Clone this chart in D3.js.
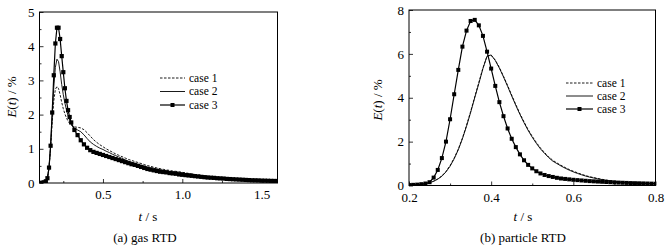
<!DOCTYPE html>
<html><head><meta charset="utf-8">
<script src="https://cdn.jsdelivr.net/npm/d3@7/dist/d3.min.js"></script>
<style>
html,body{margin:0;padding:0;background:#fff;}
svg{display:block;}
svg text{font-family:"Liberation Serif","Times New Roman",Times,"DejaVu Serif",serif !important;}
</style></head>
<body><svg id="c" width="672" height="248"></svg>
<script>
// ---------- DATA: (a) gas RTD ----------
const tGas = [0.10,0.11,0.12,0.13,0.14,0.15,0.16,0.17,0.18,0.19,0.20,0.21,0.22,0.23,0.24,0.25,0.26,0.27,0.28,0.29,0.30,
0.32,0.34,0.36,0.38,0.40,0.42,0.44,0.46,0.48,0.50,0.52,0.54,0.56,0.58,0.60,0.62,0.64,0.66,0.68,0.70,
0.72,0.74,0.76,0.78,0.80,0.82,0.84,0.86,0.88,0.90,0.92,0.94,0.96,0.98,1.00,1.02,1.04,1.06,1.08,1.10,
1.12,1.14,1.16,1.18,1.20,1.22,1.24,1.26,1.28,1.30,1.32,1.34,1.36,1.38,1.40,1.42,1.44,1.46,1.48,1.50,
1.52,1.54,1.56,1.58,1.60];
const gasCase1 = [0,0,0.01,0.02,0.05,0.14,0.44,1.02,1.78,2.40,2.74,2.82,2.76,2.58,2.36,2.17,2.02,1.90,1.81,1.74,1.69,
1.64,1.63,1.61,1.56,1.47,1.37,1.27,1.19,1.12,1.06,1.00,0.95,0.90,0.85,0.81,0.77,0.73,0.69,0.66,0.63,
0.60,0.57,0.54,0.51,0.49,0.46,0.44,0.42,0.40,0.38,0.37,0.35,0.34,0.33,0.31,0.30,0.28,0.27,0.25,0.24,
0.22,0.21,0.20,0.19,0.18,0.17,0.16,0.15,0.145,0.14,0.13,0.125,0.12,0.11,0.105,0.10,0.095,0.09,0.085,0.08,
0.077,0.073,0.07,0.067,0.064];
const gasCase2 = [0,0,0.01,0.02,0.05,0.14,0.45,1.07,1.95,2.80,3.38,3.62,3.55,3.25,2.88,2.58,2.34,2.14,1.97,1.84,1.73,
1.60,1.55,1.50,1.41,1.30,1.20,1.13,1.07,1.02,0.98,0.93,0.89,0.84,0.80,0.76,0.72,0.68,0.64,0.61,0.58,
0.55,0.52,0.50,0.47,0.45,0.43,0.41,0.39,0.37,0.36,0.34,0.33,0.32,0.31,0.30,0.28,0.27,0.25,0.24,0.22,
0.21,0.20,0.19,0.18,0.17,0.16,0.15,0.145,0.14,0.13,0.125,0.12,0.11,0.105,0.10,0.095,0.09,0.085,0.08,0.077,
0.073,0.07,0.067,0.064,0.06];
const gasCase3 = [0,0,0.01,0.02,0.05,0.14,0.45,1.09,2.06,3.15,4.08,4.54,4.54,4.21,3.71,3.24,2.77,2.40,2.13,1.93,1.77,
1.55,1.40,1.25,1.13,1.03,0.96,0.91,0.88,0.85,0.82,0.79,0.76,0.73,0.70,0.67,0.64,0.61,0.58,0.55,0.53,
0.50,0.47,0.44,0.41,0.39,0.37,0.35,0.33,0.32,0.31,0.29,0.28,0.27,0.25,0.24,0.23,0.22,0.21,0.20,0.19,
0.18,0.17,0.16,0.155,0.15,0.14,0.135,0.13,0.12,0.115,0.11,0.105,0.10,0.095,0.09,0.085,0.08,0.078,0.075,0.07,
0.068,0.065,0.062,0.06,0.058];

// ---------- DATA: (b) particle RTD ----------
const tPart = [0.20,0.21,0.22,0.23,0.24,0.25,0.26,0.27,0.28,0.29,0.30,0.31,0.32,0.33,0.34,0.35,0.36,0.37,0.38,0.39,0.40,
0.41,0.42,0.43,0.44,0.45,0.46,0.47,0.48,0.49,0.50,0.51,0.52,0.53,0.54,0.55,0.56,0.57,0.58,0.59,0.60,
0.61,0.62,0.63,0.64,0.65,0.66,0.67,0.68,0.69,0.70,0.71,0.72,0.73,0.74,0.75,0.76,0.77,0.78,0.79,0.80];
const partCase1 = [0.01,0.01,0.02,0.04,0.08,0.13,0.20,0.30,0.44,0.64,0.91,1.25,1.66,2.16,2.74,3.37,4.04,4.70,5.36,5.90,5.93,
5.72,5.38,4.98,4.56,4.12,3.69,3.28,2.90,2.55,2.24,1.96,1.71,1.50,1.31,1.15,1.03,0.92,0.82,0.73,0.65,
0.58,0.51,0.45,0.40,0.36,0.32,0.28,0.25,0.22,0.20,0.18,0.165,0.15,0.135,0.125,0.115,0.105,0.10,0.093,0.087];
const partCase2 = [0.01,0.01,0.02,0.04,0.08,0.13,0.19,0.29,0.42,0.62,0.88,1.22,1.63,2.13,2.70,3.33,4.00,4.65,5.33,5.90,5.95,
5.70,5.35,4.95,4.52,4.08,3.65,3.24,2.86,2.51,2.20,1.92,1.67,1.46,1.27,1.11,1.00,0.89,0.79,0.70,0.62,
0.55,0.49,0.43,0.38,0.34,0.30,0.27,0.24,0.21,0.19,0.17,0.155,0.14,0.13,0.12,0.11,0.10,0.095,0.09,0.085];
const partCase3 = [0.02,0.03,0.04,0.06,0.09,0.15,0.36,0.71,1.25,2.00,3.02,4.16,5.27,6.33,7.06,7.50,7.55,7.30,6.82,6.10,5.33,
4.54,3.80,3.16,2.60,2.13,1.75,1.42,1.15,0.94,0.78,0.65,0.55,0.48,0.43,0.39,0.35,0.32,0.30,0.28,0.26,
0.245,0.23,0.215,0.20,0.19,0.18,0.17,0.16,0.15,0.14,0.132,0.125,0.118,0.11,0.105,0.10,0.095,0.09,0.085,0.08];

// ---------- TICKS / LABELS ----------
const gasXTicks = [0.5,1.0,1.5];
const gasXMinor = [0.25,0.75,1.25];
const gasYTicks = [0,1,2,3,4,5];
const gasYMinor = [0.5,1.5,2.5,3.5,4.5];
const partXTicks = [0.2,0.4,0.6,0.8];
const partXMinor = [0.3,0.5,0.7];
const partYTicks = [0,2,4,6,8];
const partYMinor = [1,3,5,7];
const legendLabels = ["case 1","case 2","case 3"];
const captions = ["(a) gas RTD","(b) particle RTD"];

const FONT = '"Liberation Serif","Times New Roman",Times,"DejaVu Serif",serif';
const svg = d3.select("#c").attr("font-family",FONT);

function panel(opt){
  const x = d3.scaleLinear().domain(opt.xd).range(opt.xr);
  const y = d3.scaleLinear().domain(opt.yd).range(opt.yr);
  const g = svg.append("g").attr("font-family",FONT);
  const [x0,x1] = opt.xr, [y0,y1] = opt.yr;
  const clipId = "clip"+opt.id;
  svg.append("clipPath").attr("id",clipId).append("rect")
    .attr("x",x0).attr("y",y1-2).attr("width",x1-x0).attr("height",y0-y1+2);

  // axes
  const ax = d3.axisBottom(x).tickValues(opt.xt).tickSize(-4).tickPadding(7)
     .tickFormat(opt.xf);
  const gx = g.append("g").attr("transform",`translate(0,${y0})`).call(ax);
  const axm = d3.axisBottom(x).tickValues(opt.xm).tickSize(-2).tickFormat("");
  const gxm = g.append("g").attr("transform",`translate(0,${y0})`).call(axm);
  const ay = d3.axisLeft(y).tickValues(opt.yt).tickSize(-4).tickPadding(5).tickFormat(d3.format("d"));
  const gy = g.append("g").attr("transform",`translate(${x0},0)`).call(ay);
  const aym = d3.axisLeft(y).tickValues(opt.ym).tickSize(-2).tickFormat("");
  const gym = g.append("g").attr("transform",`translate(${x0},0)`).call(aym);
  [gx,gxm,gy,gym].forEach(a=>{
    a.attr("font-family",FONT);
    a.select(".domain").remove();
    a.selectAll("line").attr("stroke","#000").attr("stroke-width",0.8);
    a.selectAll("text").attr("font-family",FONT).attr("font-size",13).attr("fill","#000");
  });

  // curves
  const line = d3.line().x(d=>x(d[0])).y(d=>y(d[1]));
  const pts = (ts,vs)=>ts.map((t,i)=>[t,vs[i]]);
  const plot = g.append("g").attr("clip-path",`url(#${clipId})`);
  plot.append("path").datum(pts(opt.t,opt.c1)).attr("d",line)
    .attr("fill","none").attr("stroke","#000").attr("stroke-width",0.9).attr("stroke-dasharray","2.5,1.5");
  plot.append("path").datum(pts(opt.t,opt.c2)).attr("d",line)
    .attr("fill","none").attr("stroke","#000").attr("stroke-width",0.9);
  plot.append("path").datum(pts(opt.t,opt.c3)).attr("d",line)
    .attr("fill","none").attr("stroke","#000").attr("stroke-width",1.2);
  const ms = opt.ms;
  plot.selectAll("rect.m").data(pts(opt.t,opt.c3)).enter().append("rect")
    .attr("x",d=>x(d[0])-ms/2).attr("y",d=>y(d[1])-ms/2).attr("width",ms).attr("height",ms).attr("fill","#000");

  // frame
  g.append("rect").attr("x",x0).attr("y",y1).attr("width",x1-x0).attr("height",y0-y1)
    .attr("fill","none").attr("stroke","#000").attr("stroke-width",1);

  // legend
  const lg = g.append("g");
  legendLabels.forEach((lab,i)=>{
    const ly = opt.legY[i];
    const l = lg.append("line").attr("x1",opt.legX[0]).attr("x2",opt.legX[1]).attr("y1",ly).attr("y2",ly)
      .attr("stroke","#000").attr("stroke-width",i===2?1.2:0.9);
    if(i===0) l.attr("stroke-dasharray","2.5,1.5");
    if(i===2) lg.append("rect").attr("x",(opt.legX[0]+opt.legX[1])/2-2).attr("y",ly-2)
      .attr("width",4).attr("height",4).attr("fill","#000");
    lg.append("text").attr("x",opt.legX[2]).attr("y",ly).attr("dy","0.32em")
      .attr("font-size",11.5).text(lab);
  });

  // axis titles
  const yl = g.append("text").attr("transform",`translate(${opt.ylab[0]},${opt.ylab[1]}) rotate(-90)`)
    .attr("text-anchor","middle").attr("dy","0.35em").attr("font-size",13);
  yl.append("tspan").attr("font-style","italic").text("E");
  yl.append("tspan").text("(");
  yl.append("tspan").attr("font-style","italic").text("t");
  yl.append("tspan").text(") / %");
  const xl = g.append("text").attr("x",opt.xlab[0]).attr("y",opt.xlab[1]).attr("text-anchor","middle")
    .attr("dy","0.35em").attr("font-size",13);
  xl.append("tspan").attr("font-style","italic").text("t");
  xl.append("tspan").text(" / s");
  g.append("text").attr("x",opt.cap[0]).attr("y",opt.cap[1]).attr("text-anchor","middle")
    .attr("dy","0.35em").attr("font-size",13).text(opt.caption);
}

panel({id:"a", xd:[0.1,1.6], xr:[39.5,277.5], yd:[0,5], yr:[183,12],
  xt:gasXTicks, xm:gasXMinor, yt:gasYTicks, ym:gasYMinor, xf:d3.format(".1f"),
  t:tGas, c1:gasCase1, c2:gasCase2, c3:gasCase3, ms:4.2,
  legX:[160,185,189], legY:[78,91.5,105],
  ylab:[11,97], xlab:[148,216.5], cap:[145,237.5], caption:captions[0]});

panel({id:"b", xd:[0.2,0.8], xr:[409,655.5], yd:[0,8], yr:[185.5,10],
  xt:partXTicks, xm:partXMinor, yt:partYTicks, ym:partYMinor, xf:d3.format(".1f"),
  t:tPart, c1:partCase1, c2:partCase2, c3:partCase3, ms:4,
  legX:[566,593,597], legY:[83,96,109],
  ylab:[377,100], xlab:[523,216.5], cap:[523,237.5], caption:captions[1]});
</script>
</body></html>
